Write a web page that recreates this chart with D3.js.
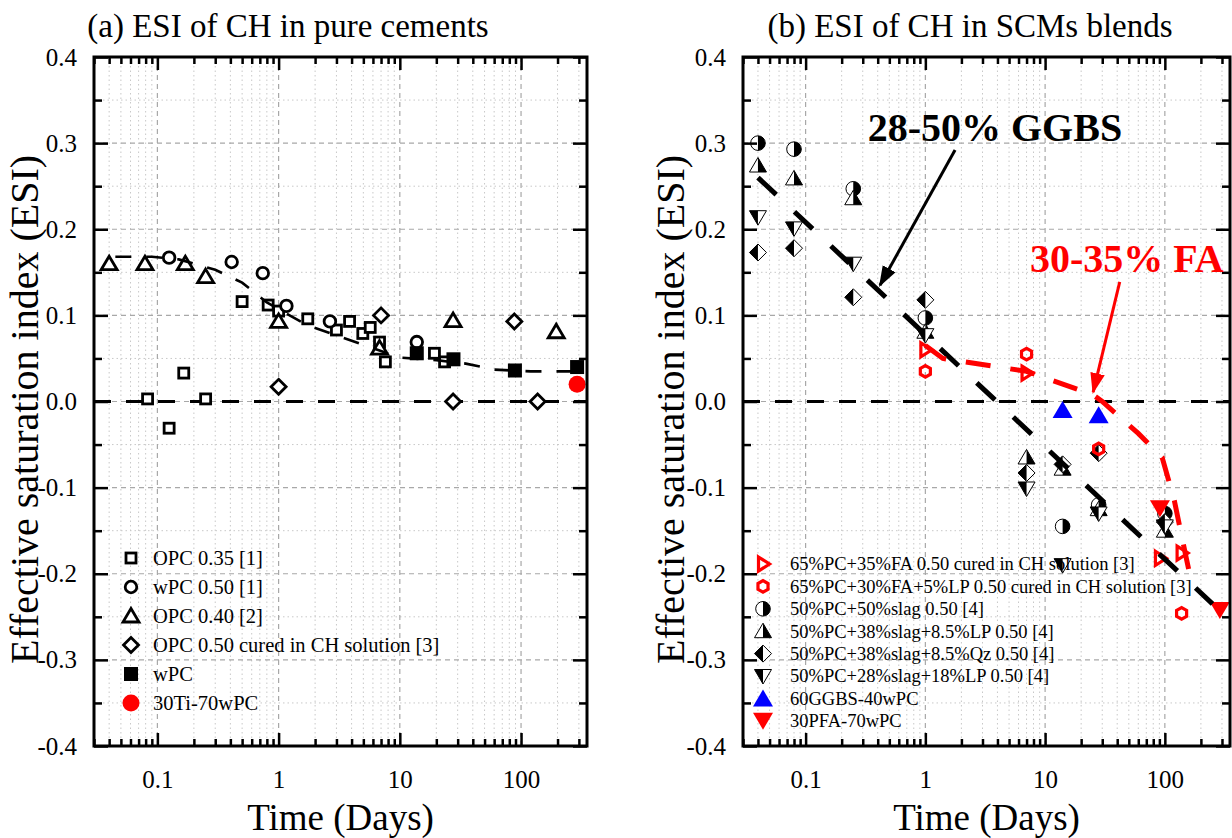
<!DOCTYPE html>
<html>
<head>
<meta charset="utf-8">
<script src="https://cdn.jsdelivr.net/npm/d3@7/dist/d3.min.js"></script>
<style>
  body { margin: 0; background: #fff; }
  text { font-family: "Liberation Serif", "Times New Roman", serif; }
</style>
</head>
<body>
<svg id="chart" width="1232" height="838"></svg>
<script>
// ---------- data (time in days, ESI) ----------
// panel (a)
const opc035 = [[0.083, 0.003], [0.125, -0.031], [0.165, 0.033], [0.25, 0.003], [0.5, 0.116], [0.82, 0.112],
  [1.0, 0.105], [1.74, 0.096], [3.0, 0.083], [3.85, 0.093], [4.95, 0.079], [5.7, 0.086], [6.8, 0.069],
  [7.6, 0.046], [19.3, 0.056], [23.4, 0.046]];
const wpc050 = [[0.125, 0.167], [0.41, 0.162], [0.74, 0.149], [1.16, 0.111], [2.65, 0.093], [13.8, 0.069]];
const opc040 = [[0.04, 0.16], [0.079, 0.16], [0.17, 0.16], [0.25, 0.145], [1.0, 0.093], [6.8, 0.062],
  [27.5, 0.094], [195, 0.081]];
const opc050ch = [[1.0, 0.017], [7.0, 0.1], [27.5, 0.0], [88, 0.093], [137, 0.0]];
const wpc = [[13.8, 0.056], [27.7, 0.049], [89, 0.036], [290, 0.04]];
const ti30 = [[290, 0.02]];
const trendA = [[0.045, 0.168], [0.09, 0.168], [0.15, 0.165], [0.3, 0.153], [0.5, 0.138], [0.8, 0.115],
  [1.7, 0.089], [10, 0.051], [20, 0.048], [35, 0.044], [60, 0.037], [120, 0.035], [330, 0.035]];

// panel (b)
const fa35ch = [[1, 0.06], [7, 0.033], [91, -0.182], [138, -0.176]];
const fa30lp = [[1, 0.035], [7, 0.055], [28, -0.055], [138, -0.246]];
const slag50 = [[0.04, 0.30], [0.08, 0.293], [0.25, 0.247], [1, 0.097], [14, -0.145], [28, -0.12], [100, -0.13]];
const slag38lp = [[0.04, 0.274], [0.08, 0.259], [0.25, 0.236], [1, 0.081], [7, -0.065], [14, -0.078], [28, -0.125], [100, -0.15]];
const slag38qz = [[0.04, 0.173], [0.08, 0.178], [0.25, 0.121], [1, 0.118], [7, -0.083], [14, -0.073], [28, -0.06], [100, -0.14]];
const slag28lp = [[0.04, 0.214], [0.08, 0.201], [0.25, 0.16], [1, 0.077], [7, -0.101], [14, -0.19], [28, -0.13], [100, -0.145]];
const ggbs60 = [[14, -0.01], [28, -0.016]];
const pfa30 = [[91, -0.124], [288, -0.242]];
const trendGGBS = [[0.04, 0.26], [250, -0.235]];
const trendFA = [[1, 0.065], [1.4, 0.05], [7, 0.035], [25, 0.008], [30, 0.0], [60, -0.037], [95, -0.065],
  [120, -0.115], [150, -0.18], [170, -0.215]];

// annotations: [tail, head] in data units
const arrowGGBS = [[1.77, 0.292], [0.418, 0.135]];
const arrowFA = [[42, 0.139], [25.2, 0.011]];

const xTickLabels = [0.1, 1, 10, 100];
const yTickValues = [-0.4, -0.3, -0.2, -0.1, 0, 0.1, 0.2, 0.3, 0.4];
const yMinorValues = [-0.35, -0.25, -0.15, -0.05, 0.05, 0.15, 0.25, 0.35];

const legendA = [
  ["sqOpen", "OPC 0.35 [1]"],
  ["circOpen", "wPC 0.50 [1]"],
  ["triOpen", "OPC 0.40 [2]"],
  ["diaOpen", "OPC 0.50 cured in CH solution [3]"],
  ["sqFill", "wPC"],
  ["redDot", "30Ti-70wPC"]
];
const legendB = [
  ["redRight", "65%PC+35%FA 0.50 cured in CH solution [3]"],
  ["redHex", "65%PC+30%FA+5%LP 0.50 cured in CH solution [3]"],
  ["halfCirc", "50%PC+50%slag 0.50 [4]"],
  ["halfTri", "50%PC+38%slag+8.5%LP 0.50 [4]"],
  ["halfDia", "50%PC+38%slag+8.5%Qz 0.50 [4]"],
  ["halfDown", "50%PC+28%slag+18%LP 0.50 [4]"],
  ["blueTri", "60GGBS-40wPC"],
  ["redDown", "30PFA-70wPC"]
];

// ---------- markers ----------
const marker = (g, type, x, y) => {
  const m = g.append("g").attr("transform", `translate(${x},${y})`);
  const poly = (pts) => "M" + pts.map(p => p.join(",")).join("L") + "Z";
  if (type === "sqOpen") {
    m.append("rect").attr("x", -5).attr("y", -5).attr("width", 10).attr("height", 10)
      .attr("fill", "#fff").attr("stroke", "#000").attr("stroke-width", 2.8);
  } else if (type === "circOpen") {
    m.append("circle").attr("r", 5.8).attr("fill", "#fff").attr("stroke", "#000").attr("stroke-width", 2.8);
  } else if (type === "triOpen") {
    m.append("path").attr("d", poly([[0, -7.5], [8, 6], [-8, 6]]))
      .attr("fill", "#fff").attr("stroke", "#000").attr("stroke-width", 2.8).attr("stroke-linejoin", "miter");
  } else if (type === "diaOpen") {
    m.append("path").attr("d", poly([[0, -7.5], [7.5, 0], [0, 7.5], [-7.5, 0]]))
      .attr("fill", "#fff").attr("stroke", "#000").attr("stroke-width", 2.8);
  } else if (type === "sqFill") {
    m.append("rect").attr("x", -7).attr("y", -7).attr("width", 14).attr("height", 14).attr("fill", "#000");
  } else if (type === "redDot") {
    m.append("circle").attr("r", 8.5).attr("fill", "#ff0000");
  } else if (type === "redRight") {
    m.append("path").attr("d", poly([[-4.5, -7], [6.5, 0], [-4.5, 7]]))
      .attr("fill", "none").attr("stroke", "#ff0000").attr("stroke-width", 3.2);
  } else if (type === "redHex") {
    const r = 5.8;
    m.append("path").attr("d", poly(d3.range(6).map(i => {
      const a = Math.PI / 3 * i + Math.PI / 6;
      return [r * Math.cos(a), r * Math.sin(a)];
    }))).attr("fill", "none").attr("stroke", "#ff0000").attr("stroke-width", 3.2);
  } else if (type === "halfCirc") {
    const r = 7.3;
    m.append("circle").attr("r", r).attr("fill", "#fff");
    m.append("path").attr("d", `M0,${-r}A${r},${r} 0 0 1 0,${r}Z`).attr("fill", "#000");
    m.append("circle").attr("r", r).attr("fill", "none").attr("stroke", "#000").attr("stroke-width", 1);
  } else if (type === "halfTri") {
    m.append("path").attr("d", poly([[0, -8], [8.5, 6.5], [-8.5, 6.5]])).attr("fill", "#fff");
    m.append("path").attr("d", poly([[0, -8], [8.5, 6.5], [0, 6.5]])).attr("fill", "#000");
    m.append("path").attr("d", poly([[0, -8], [8.5, 6.5], [-8.5, 6.5]]))
      .attr("fill", "none").attr("stroke", "#000").attr("stroke-width", 1);
  } else if (type === "halfDia") {
    m.append("path").attr("d", poly([[0, -8.5], [8.5, 0], [0, 8.5], [-8.5, 0]])).attr("fill", "#fff");
    m.append("path").attr("d", poly([[0, -8.5], [0, 8.5], [-8.5, 0]])).attr("fill", "#000");
    m.append("path").attr("d", poly([[0, -8.5], [8.5, 0], [0, 8.5], [-8.5, 0]]))
      .attr("fill", "none").attr("stroke", "#000").attr("stroke-width", 1);
  } else if (type === "halfDown") {
    m.append("path").attr("d", poly([[0, 8], [8.5, -6.5], [-8.5, -6.5]])).attr("fill", "#fff");
    m.append("path").attr("d", poly([[0, 8], [0, -6.5], [-8.5, -6.5]])).attr("fill", "#000");
    m.append("path").attr("d", poly([[0, 8], [8.5, -6.5], [-8.5, -6.5]]))
      .attr("fill", "none").attr("stroke", "#000").attr("stroke-width", 1);
  } else if (type === "blueTri") {
    m.append("path").attr("d", poly([[0, -9], [10, 8], [-10, 8]])).attr("fill", "#0000ff");
  } else if (type === "redDown") {
    m.append("path").attr("d", poly([[0, 9], [10, -8], [-10, -8]])).attr("fill", "#ff0000");
  }
};

const svg = d3.select("#chart");
const yTop = 57, yBot = 746;
const fmt = (v) => v.toFixed(1);

const drawPanel = (p) => {
  const x = d3.scaleLog().domain([0.03, 350]).range([p.x0, p.x1]);
  const y = d3.scaleLinear().domain([-0.4, 0.4]).range([yBot, yTop]);
  const g = svg.append("g");
  const xMinor = x.ticks().filter(t => !xTickLabels.some(m => Math.abs(m - t) < 1e-9));

  // y title
  g.append("text").attr("transform", "rotate(-90)")
    .attr("x", -((yTop + yBot) / 2 + 8)).attr("y", p.ylabX)
    .attr("text-anchor", "middle").attr("font-size", 40).text("Effective saturation index (ESI)");

  // grid
  const grid = g.append("g");
  grid.selectAll(".xm").data(xMinor).join("line")
    .attr("x1", d => x(d)).attr("x2", d => x(d)).attr("y1", yTop).attr("y2", yBot)
    .attr("stroke", "#c8c8c8").attr("stroke-width", 1).attr("stroke-dasharray", "1.5,3");
  grid.selectAll(".ym").data(yMinorValues).join("line")
    .attr("x1", p.x0).attr("x2", p.x1).attr("y1", d => y(d)).attr("y2", d => y(d))
    .attr("stroke", "#c8c8c8").attr("stroke-width", 1).attr("stroke-dasharray", "1.5,3");
  grid.selectAll(".xM").data(xTickLabels).join("line")
    .attr("x1", d => x(d)).attr("x2", d => x(d)).attr("y1", yTop).attr("y2", yBot)
    .attr("stroke", "#a8a8a8").attr("stroke-width", 1.2).attr("stroke-dasharray", "5,4");
  grid.selectAll(".yM").data(yTickValues.slice(1, -1)).join("line")
    .attr("x1", p.x0).attr("x2", p.x1).attr("y1", d => y(d)).attr("y2", d => y(d))
    .attr("stroke", "#a8a8a8").attr("stroke-width", 1.2).attr("stroke-dasharray", "5,4");

  // zero line
  g.append("line").attr("x1", p.x0).attr("x2", p.x1).attr("y1", y(0)).attr("y2", y(0))
    .attr("stroke", "#000").attr("stroke-width", 3).attr("stroke-dasharray", "17,15");

  // markers
  p.series.forEach(([data, type]) => {
    data.forEach(d => marker(g, type, x(d[0]), y(d[1])));
  });

  // trend lines
  const line = d3.line().x(d => x(d[0])).y(d => y(d[1]));
  p.trends.forEach(([data, color, w, dash]) => {
    g.append("path").attr("d", line(data)).attr("fill", "none")
      .attr("stroke", color).attr("stroke-width", w).attr("stroke-dasharray", dash);
  });

  // axes
  const ax = g.append("g").attr("class", "axes");
  const styleAxis = (sel) => {
    sel.select(".domain").remove();
    sel.selectAll("line").attr("stroke", "#000").attr("stroke-width", 2.5);
    sel.selectAll("text").attr("font-size", 25).attr("fill", "#000")
      .attr("font-family", "'Liberation Serif', serif");
  };
  ax.append("g").attr("transform", `translate(0,${yBot})`)
    .call(d3.axisBottom(x).tickValues(xTickLabels).tickSize(-13).tickPadding(24)
      .tickFormat(d => d < 1 ? fmt(d) : String(d)))
    .call(styleAxis);
  ax.append("g").attr("transform", `translate(0,${yBot})`)
    .call(d3.axisBottom(x).tickValues(xMinor).tickSize(-7).tickFormat(""))
    .call(styleAxis);
  ax.append("g").attr("transform", `translate(0,${yTop})`)
    .call(d3.axisTop(x).tickValues(xTickLabels).tickSize(-13).tickFormat(""))
    .call(styleAxis);
  ax.append("g").attr("transform", `translate(0,${yTop})`)
    .call(d3.axisTop(x).tickValues(xMinor).tickSize(-7).tickFormat(""))
    .call(styleAxis);
  ax.append("g").attr("transform", `translate(${p.x0},0)`)
    .call(d3.axisLeft(y).tickValues(yTickValues).tickSize(-14).tickPadding(17).tickFormat(fmt))
    .call(styleAxis);
  ax.append("g").attr("transform", `translate(${p.x0},0)`)
    .call(d3.axisLeft(y).tickValues(yMinorValues).tickSize(-8).tickFormat(""))
    .call(styleAxis);
  ax.append("g").attr("transform", `translate(${p.x1},0)`)
    .call(d3.axisRight(y).tickValues(yTickValues).tickSize(-14).tickFormat(""))
    .call(styleAxis);
  ax.append("g").attr("transform", `translate(${p.x1},0)`)
    .call(d3.axisRight(y).tickValues(yMinorValues).tickSize(-8).tickFormat(""))
    .call(styleAxis);
  ax.append("rect").attr("x", p.x0).attr("y", yTop).attr("width", p.x1 - p.x0).attr("height", yBot - yTop)
    .attr("fill", "none").attr("stroke", "#000").attr("stroke-width", 3);

  // titles
  g.append("text").attr("x", p.titleX).attr("y", 37).attr("text-anchor", "middle")
    .attr("font-size", 33).text(p.title);
  g.append("text").attr("x", (p.x0 + p.x1) / 2).attr("y", 830).attr("text-anchor", "middle")
    .attr("font-size", 37).text("Time (Days)");

  // legend
  p.legend.forEach(([type, label], i) => {
    const ly = p.legY + i * p.legStep;
    marker(g, type, p.legX, ly);
    g.append("text").attr("x", p.legX + p.legGap).attr("y", ly).attr("dy", "0.35em")
      .attr("font-size", p.legFont).text(label);
  });

  return { g, x, y };
};

const A = drawPanel({
  x0: 94, x1: 587, titleX: 288, ylabX: 38,
  title: "(a) ESI of CH in pure cements",
  series: [[opc035, "sqOpen"], [wpc050, "circOpen"], [opc040, "triOpen"], [opc050ch, "diaOpen"],
    [wpc, "sqFill"], [ti30, "redDot"]],
  trends: [[trendA, "#000", 2.6, "16,15"]],
  legend: legendA, legX: 131, legY: 558, legStep: 29, legGap: 22, legFont: 20.5
});

const B = drawPanel({
  x0: 743, x1: 1230, titleX: 970, ylabX: 684,
  title: "(b) ESI of CH in SCMs blends",
  series: [[slag50, "halfCirc"], [slag38lp, "halfTri"], [slag38qz, "halfDia"], [slag28lp, "halfDown"],
    [fa35ch, "redRight"], [fa30lp, "redHex"], [ggbs60, "blueTri"], [pfa30, "redDown"]],
  trends: [[trendGGBS, "#000", 5, "25,25"], [trendFA, "#ff0000", 5, "25,20"]],
  legend: legendB, legX: 763, legY: 564, legStep: 22.4, legGap: 27, legFont: 18.5
});

// annotations in panel (b)
const defs = svg.append("defs");
[["headBlack", "#000"], ["headRed", "#ff0000"]].forEach(([id, c]) => {
  defs.append("marker").attr("id", id).attr("viewBox", "0 0 10 10").attr("refX", 9).attr("refY", 5)
    .attr("markerWidth", 7).attr("markerHeight", 7).attr("orient", "auto")
    .attr("markerUnits", "strokeWidth")
    .append("path").attr("d", "M0,1.5L10,5L0,8.5Z").attr("fill", c);
});
const arrow = (pts, c, id) => {
  B.g.append("line")
    .attr("x1", B.x(pts[0][0])).attr("y1", B.y(pts[0][1]))
    .attr("x2", B.x(pts[1][0])).attr("y2", B.y(pts[1][1]))
    .attr("stroke", c).attr("stroke-width", 3).attr("marker-end", `url(#${id})`);
};
arrow(arrowGGBS, "#000", "headBlack");
arrow(arrowFA, "#ff0000", "headRed");

B.g.append("text").attr("x", B.x(0.33)).attr("y", B.y(0.303)).attr("font-size", 40)
  .attr("font-weight", "bold").attr("fill", "#000").text("28-50% GGBS");
B.g.append("text").attr("x", B.x(7.48)).attr("y", B.y(0.15)).attr("font-size", 40)
  .attr("font-weight", "bold").attr("fill", "#ff0000").text("30-35% FA");
</script>
</body>
</html>
